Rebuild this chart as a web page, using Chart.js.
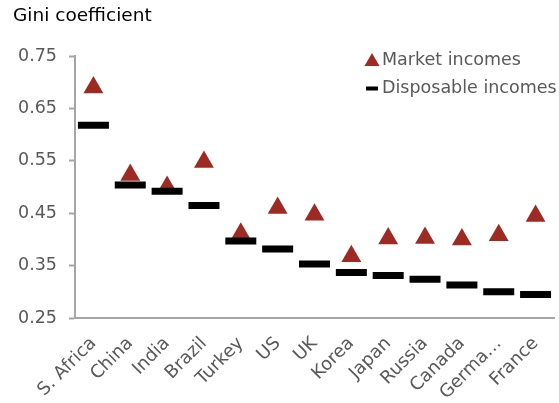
<!DOCTYPE html>
<html>
<head>
<meta charset="utf-8">
<script src="https://cdn.jsdelivr.net/npm/chart.js@4/dist/chart.umd.min.js"></script>
<style>
  html, body { margin: 0; padding: 0; background: #fff; }
  #wrap { width: 559px; height: 403px; }
</style>
</head>
<body>
<div id="wrap"><canvas id="c" width="559" height="403"></canvas></div>
<script>
// Gini coefficients by country, before and after taxes and transfers
const countries = ['S. Africa', 'China', 'India', 'Brazil', 'Turkey', 'US', 'UK', 'Korea', 'Japan', 'Russia', 'Canada', 'Germa\u2026', 'France'];
const marketIncomes = [0.69, 0.523, 0.50, 0.548, 0.411, 0.460, 0.447, 0.368, 0.402, 0.403, 0.400, 0.408, 0.445];
const disposableIncomes = [0.618, 0.504, 0.492, 0.465, 0.397, 0.382, 0.353, 0.337, 0.331, 0.324, 0.313, 0.300, 0.295];
const yTicks = [0.25, 0.35, 0.45, 0.55, 0.65, 0.75];

const FONT = 'DejaVu Sans';
const GREY_TEXT = '#595959';
const AXIS = '#a6a6a6';
const RED = '#9e2b23';

// legend drawn in the upper right of the plot
const legendPlugin = {
  id: 'cornerLegend',
  afterDraw(chart) {
    const ctx = chart.ctx;
    const ds = chart.data.datasets;
    ctx.save();
    ctx.font = '17.5px "' + FONT + '"';
    ctx.textBaseline = 'middle';
    ctx.textAlign = 'left';
    // triangle marker
    ctx.fillStyle = ds[0].pointBackgroundColor;
    ctx.beginPath();
    ctx.moveTo(372, 53);
    ctx.lineTo(379.5, 66);
    ctx.lineTo(364.5, 66);
    ctx.closePath();
    ctx.fill();
    // dash marker
    ctx.fillStyle = ds[1].pointBorderColor;
    ctx.fillRect(366, 86.5, 12, 4);
    ctx.fillStyle = GREY_TEXT;
    ctx.fillText(ds[0].label, 382, 60);
    ctx.fillText(ds[1].label, 382, 88);
    ctx.restore();
  }
};

new Chart(document.getElementById('c'), {
  type: 'line',
  data: {
    labels: countries,
    datasets: [
      {
        label: 'Market incomes',
        data: marketIncomes,
        showLine: false,
        pointStyle: 'triangle',
        pointRadius: 11.5,
        pointHoverRadius: 11.5,
        pointBackgroundColor: RED,
        pointBorderColor: RED,
        pointBorderWidth: 0,
        order: 2
      },
      {
        label: 'Disposable incomes',
        data: disposableIncomes,
        showLine: false,
        pointStyle: 'line',
        pointRadius: 15.5,
        pointHoverRadius: 15.5,
        pointBorderColor: '#000000',
        pointBackgroundColor: '#000000',
        pointBorderWidth: 7,
        order: 1
      }
    ]
  },
  options: {
    responsive: false,
    animation: false,
    events: [],
    layout: { autoPadding: false, padding: { left: 13, right: 5, top: 0, bottom: 0 } },
    plugins: {
      legend: { display: false },
      tooltip: { enabled: false },
      title: {
        display: true,
        text: 'Gini coefficient',
        align: 'start',
        color: '#000000',
        font: { family: FONT, size: 18.5, weight: 'normal' },
        padding: { top: 5, bottom: 29 }
      }
    },
    scales: {
      x: {
        offset: true,
        grid: { display: true, drawOnChartArea: false, drawTicks: false },
        border: { display: true, color: AXIS, width: 2 },
        ticks: {
          autoSkip: false,
          minRotation: 45,
          maxRotation: 45,
          padding: 15,
          color: GREY_TEXT,
          font: { family: FONT, size: 18 }
        },
        afterFit(scale) {
          scale.height = 85;
          scale.paddingLeft = 0;
          scale.paddingRight = 0;
        }
      },
      y: {
        min: 0.25,
        max: 0.75,
        afterBuildTicks(scale) { scale.ticks = yTicks.map(v => ({ value: v })); },
        grid: { display: true, drawOnChartArea: false, drawTicks: true, tickLength: 6, tickWidth: 2, tickColor: AXIS },
        border: { display: true, color: AXIS, width: 2 },
        ticks: {
          padding: 12,
          color: GREY_TEXT,
          font: { family: FONT, size: 17.5 },
          callback: v => v.toFixed(2)
        },
        afterFit(scale) { scale.width = 62; }
      }
    }
  },
  plugins: [legendPlugin]
});
</script>
</body>
</html>
